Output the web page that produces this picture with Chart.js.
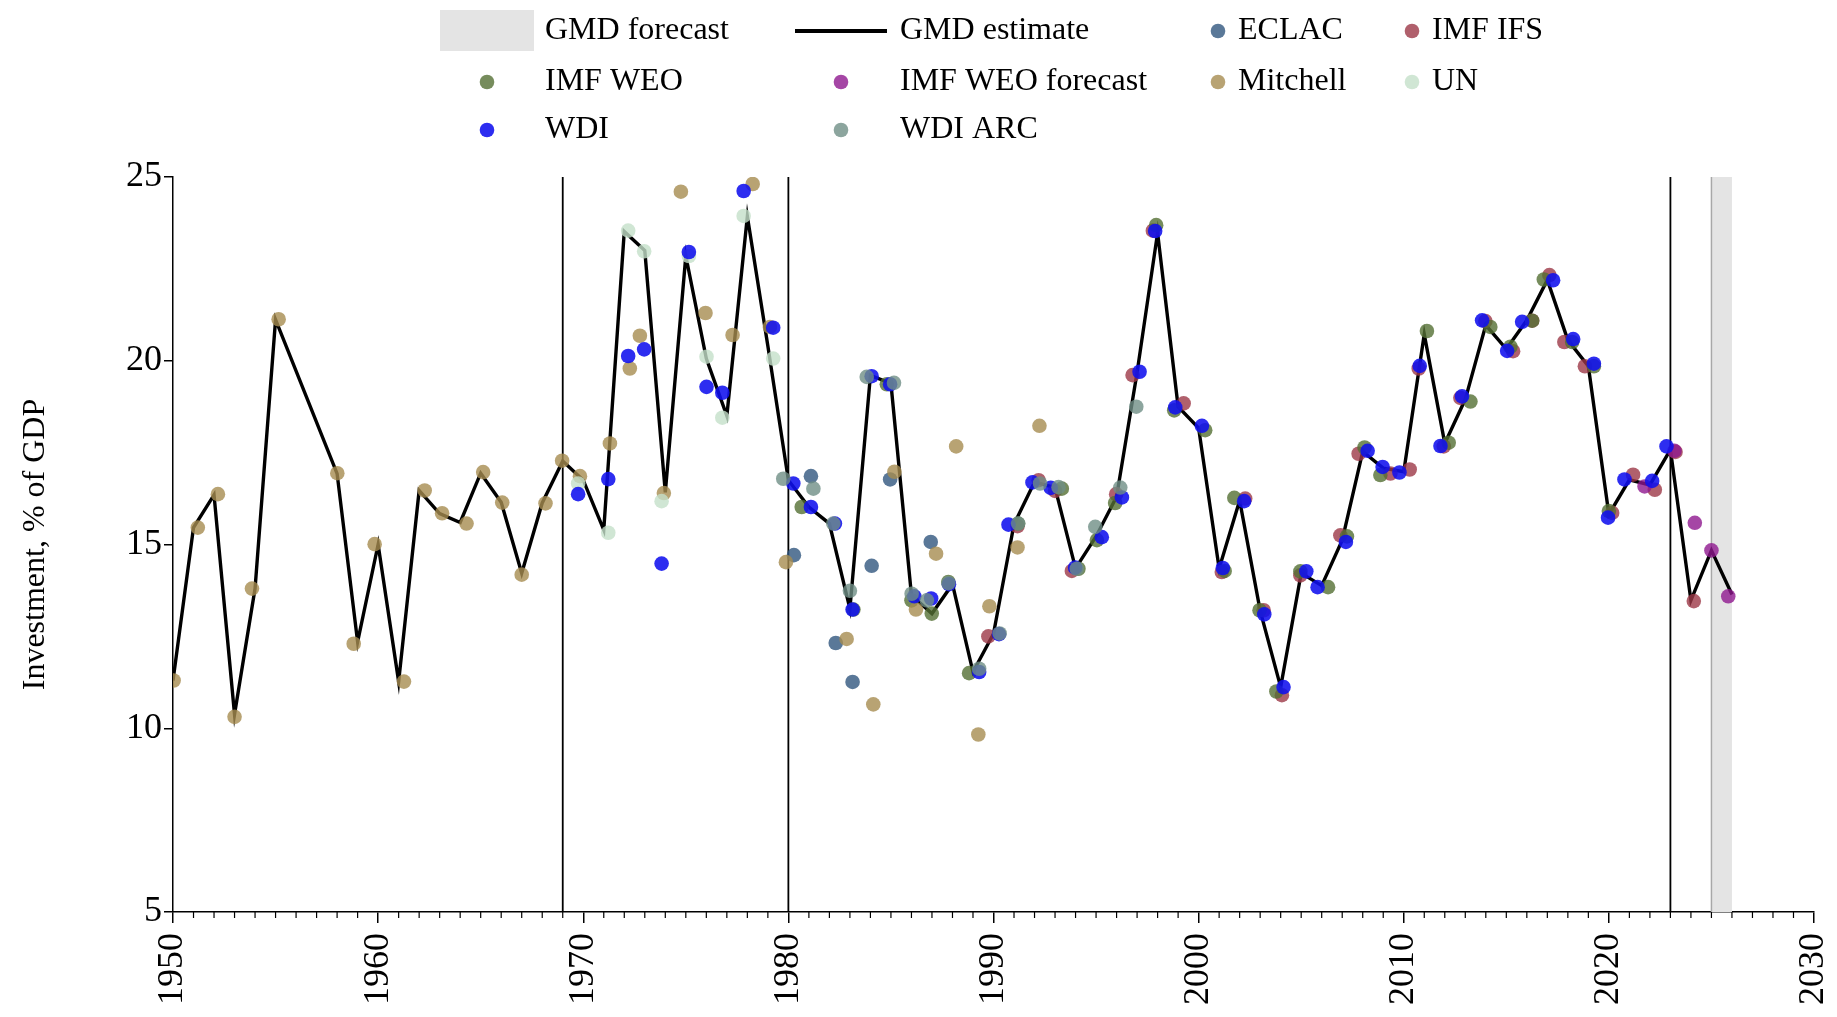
<!DOCTYPE html>
<html><head><meta charset="utf-8">
<script src="https://cdn.jsdelivr.net/npm/chart.js@4"></script>
<style>html,body{margin:0;padding:0;background:#fff;overflow:hidden}</style>
</head><body>
<canvas id="c" width="1837" height="1017" style="width:1837px;height:1017px"></canvas>
<script>
// ---- data ----
const gmdYears = [1950,1951,1952,1953,1954,1955,1958,1959,1960,1961,1962,1963,1964,1965,1966,1967,1968,1969,
  1970,1971,1972,1973,1974,1975,1976,1977,1978,1979,1980,1981,1982,1983,1984,1985,1986,1987,1988,1989,
  1990,1991,1992,1993,1994,1995,1996,1997,1998,1999,2000,2001,2002,2003,2004,2005,2006,2007,2008,2009,
  2010,2011,2012,2013,2014,2015,2016,2017,2018,2019,2020,2021,2022,2023,2024,2025,2026];
const gmdValues = [11.30,15.46,16.35,10.38,13.80,21.12,16.93,12.35,15.00,11.27,16.47,15.84,15.60,16.94,16.15,14.22,16.13,17.27,
  16.75,15.40,23.52,23.00,16.42,22.85,20.06,18.50,23.93,20.40,16.75,16.02,15.57,13.25,19.60,19.38,13.62,13.12,13.92,11.53,
  12.57,15.55,16.70,16.55,14.35,15.22,16.30,19.68,23.48,18.75,18.17,14.35,16.20,13.20,11.12,14.22,13.88,15.12,17.53,17.08,
  16.98,20.72,17.75,18.95,20.97,20.32,21.10,22.20,20.56,19.85,15.82,16.76,16.62,17.58,13.48,14.84,13.64];

const eclacPts = [[1980.27,14.71],[1981.10,16.86],[1982.31,12.32],[1983.13,11.26],[1984.06,14.42],[1984.96,16.77],[1986.94,15.07]];
const imfIfsPts = [[1989.75,12.50],[1991.17,15.50],[1992.20,16.75],[1993.00,16.46],[1993.82,14.28],[1995.98,16.37],[1996.78,19.61],
  [1997.77,23.54],[1999.27,18.84],[2001.13,14.25],[2002.27,16.25],[2003.17,13.21],[2004.06,10.90],[2004.96,14.16],[2006.91,15.25],
  [2007.80,17.47],[2009.35,16.93],[2010.29,17.04],[2010.73,19.79],[2011.95,17.67],[2012.76,18.99],[2013.98,21.08],[2015.33,20.26],
  [2016.26,21.09],[2017.10,22.33],[2017.83,20.51],[2018.83,19.85],[2020.16,15.86],[2021.18,16.90],[2022.24,16.49],[2023.25,17.52],[2024.14,13.46]];
const imfWeoPts = [[1980.65,16.02],[1983.17,13.23],[1984.80,19.36],[1986.00,13.48],[1986.99,13.12],[1987.80,13.98],[1988.81,11.50],
  [1991.20,15.57],[1993.33,16.52],[1994.14,14.34],[1995.04,15.12],[1995.93,16.13],[1997.93,23.69],[1998.81,18.65],[2000.32,18.11],
  [2001.27,14.28],[2001.74,16.27],[2002.97,13.21],[2003.79,11.00],[2004.96,14.27],[2006.31,13.84],[2007.23,15.22],[2008.09,17.64],
  [2008.86,16.89],[2011.13,20.81],[2012.19,17.77],[2013.25,18.89],[2014.22,20.92],[2015.20,20.38],[2016.26,21.09],[2016.83,22.21],
  [2018.21,20.51],[2019.27,19.85],[2020.00,15.91]];
const imfWeoForecastPts = [[2021.74,16.58],[2023.20,17.55],[2024.19,15.59],[2025.00,14.84],[2025.82,13.59]];
const mitchellPts = [[1950.03,11.30],[1951.21,15.46],[1952.19,16.37],[1953.00,10.31],[1953.85,13.80],[1955.15,21.13],[1958.01,16.94],
  [1958.81,12.30],[1959.83,15.01],[1961.26,11.27],[1962.27,16.47],[1963.12,15.85],[1964.31,15.57],[1965.12,16.97],[1966.05,16.14],
  [1967.00,14.18],[1968.16,16.12],[1968.97,17.28],[1969.84,16.86],[1971.30,17.75],[1972.27,19.79],[1972.76,20.68],[1973.93,16.40],
  [1974.76,24.60],[1975.96,21.30],[1977.28,20.70],[1978.26,24.81],[1979.10,20.92],[1979.88,14.52],[1982.84,12.43],[1984.14,10.65],
  [1985.17,16.98],[1986.22,13.23],[1987.20,14.75],[1988.18,17.67],[1989.26,9.83],[1989.80,13.32],[1991.17,14.92],[1992.24,18.23]];
const unPts = [[1969.75,16.66],[1971.22,15.32],[1972.19,23.54],[1972.97,22.98],[1973.82,16.18],[1975.15,22.85],[1976.01,20.11],
  [1976.78,18.45],[1977.82,23.94],[1979.26,20.06]];
const wdiPts = [[1969.75,16.37],[1971.22,16.78],[1972.19,20.13],[1972.97,20.31],[1973.82,14.48],[1975.15,22.96],[1976.01,19.29],
  [1976.78,19.13],[1977.82,24.62],[1979.26,20.90],[1980.24,16.66],[1981.10,16.02],[1982.27,15.57],[1983.13,13.23],[1984.06,19.58],
  [1984.96,19.36],[1986.14,13.59],[1986.96,13.53],[1987.83,13.92],[1989.30,11.53],[1990.27,12.56],[1990.73,15.54],[1991.90,16.69],
  [1992.79,16.54],[1993.98,14.37],[1995.28,15.20],[1996.26,16.28],[1997.12,19.70],[1997.88,23.53],[1998.86,18.73],[2000.16,18.23],
  [2001.18,14.36],[2002.22,16.18],[2003.20,13.10],[2004.14,11.12],[2005.25,14.27],[2005.80,13.84],[2007.18,15.07],[2008.24,17.55],
  [2008.97,17.11],[2009.79,16.96],[2010.78,19.86],[2011.79,17.68],[2012.84,19.03],[2013.82,21.10],[2015.04,20.27],[2015.77,21.06],
  [2017.28,22.19],[2018.26,20.59],[2019.27,19.92],[2019.96,15.73],[2020.76,16.77],[2022.11,16.73],[2022.81,17.67]];
const wdiArcPts = [[1979.75,16.79],[1981.22,16.52],[1982.19,15.57],[1983.00,13.74],[1983.82,19.56],[1985.15,19.40],[1986.01,13.66],
  [1986.75,13.48],[1987.80,13.95],[1989.30,11.62],[1990.30,12.58],[1991.20,15.57],[1992.27,16.66],[1993.17,16.56],[1994.06,14.34],
  [1994.96,15.48],[1996.18,16.55],[1996.96,18.75]];

const forecastRange = [2025, 2026];
const markerYears = [1969, 1980, 2023];
const xTicks = [1950, 1960, 1970, 1980, 1990, 2000, 2010, 2020, 2030];
const yTicks = [5, 10, 15, 20, 25];
const yTitle = 'Investment, % of GDP';

// ---- styling ----
const FONT = "'Liberation Serif', 'Times New Roman', serif";
Chart.defaults.font.family = FONT;
Chart.defaults.color = '#000';
const R = 7.3;

const toXY = pts => pts.map(p => ({x: p[0], y: p[1]}));
const scatter = (label, pts, color, order) => ({
  type: 'scatter', label, data: toXY(pts), backgroundColor: color, borderWidth: 0,
  pointRadius: R, pointHoverRadius: R, order
});

const series = [
  scatter('ECLAC', eclacPts, 'rgba(49,86,126,0.8)', 8),
  scatter('IMF IFS', imfIfsPts, 'rgba(156,56,71,0.8)', 7),
  scatter('IMF WEO', imfWeoPts, 'rgba(84,111,51,0.8)', 6),
  scatter('IMF WEO forecast', imfWeoForecastPts, 'rgba(142,24,142,0.8)', 5),
  scatter('Mitchell', mitchellPts, 'rgba(166,140,80,0.8)', 4),
  scatter('UN', unPts, 'rgba(196,224,201,0.8)', 3),
  scatter('WDI', wdiPts, 'rgba(16,16,238,0.88)', 2),
  scatter('WDI ARC', wdiArcPts, 'rgba(111,142,134,0.8)', 1)
];

const gmdLine = {
  type: 'line', label: 'GMD estimate',
  data: gmdYears.map((y, i) => ({x: y, y: gmdValues[i]})),
  borderColor: '#000', borderWidth: 3.4, pointRadius: 0, tension: 0, fill: false, order: 20
};

// shaded forecast band + vertical marker lines, placed via the scales
const bandsPlugin = {
  id: 'bands',
  beforeDatasetsDraw(chart) {
    const {ctx, chartArea: a, scales: {x}} = chart;
    ctx.save();
    const x0 = x.getPixelForValue(forecastRange[0]);
    const x1 = x.getPixelForValue(forecastRange[1]);
    ctx.fillStyle = '#e4e4e4';
    ctx.fillRect(x0, a.top, x1 - x0, a.bottom - a.top);
    ctx.strokeStyle = '#a8a8a8';
    ctx.lineWidth = 1.5;
    ctx.beginPath(); ctx.moveTo(x0, a.top); ctx.lineTo(x0, a.bottom); ctx.stroke();
    ctx.strokeStyle = '#000';
    ctx.lineWidth = 1.8;
    markerYears.forEach(yr => {
      const px = x.getPixelForValue(yr);
      ctx.beginPath(); ctx.moveTo(px, a.top); ctx.lineTo(px, a.bottom); ctx.stroke();
    });
    ctx.restore();
  },
  afterDraw(chart) {
    // minor year ticks on the x axis
    const {ctx, chartArea: a, scales: {x}} = chart;
    ctx.save();
    ctx.strokeStyle = '#000';
    ctx.lineWidth = 1.2;
    for (let yr = xTicks[0]; yr <= xTicks[xTicks.length - 1]; yr++) {
      if (yr % 10 === 0) continue;
      const px = x.getPixelForValue(yr);
      ctx.beginPath(); ctx.moveTo(px, a.bottom); ctx.lineTo(px, a.bottom + 6); ctx.stroke();
    }
    ctx.restore();
  }
};

// legend drawn from dataset labels / colours
const legendPlugin = {
  id: 'customLegend',
  afterDraw(chart) {
    const ctx = chart.ctx;
    const colX = [487, 841, 1218, 1412];
    const txtX = [545, 900, 1238, 1432];
    const rowY = [31, 82, 130];
    ctx.save();
    ctx.font = "32px " + FONT;
    ctx.fillStyle = '#000';
    ctx.textBaseline = 'middle';
    ctx.textAlign = 'left';
    ctx.fillStyle = '#e4e4e4';
    ctx.fillRect(440, 10, 94, 41);
    ctx.fillStyle = '#000';
    ctx.fillText('GMD forecast', txtX[0], rowY[0]);
    ctx.strokeStyle = '#000'; ctx.lineWidth = 4;
    ctx.beginPath(); ctx.moveTo(795, rowY[0]); ctx.lineTo(887, rowY[0]); ctx.stroke();
    ctx.fillText(gmdLine.label, txtX[1], rowY[0]);
    const slots = [[2,0],[3,0],[0,1],[1,1],[2,1],[3,1],[0,2],[1,2]];
    series.forEach((ds, i) => {
      const [c, r] = slots[i];
      ctx.fillStyle = ds.backgroundColor;
      ctx.beginPath(); ctx.arc(colX[c], rowY[r], R, 0, Math.PI * 2); ctx.fill();
      ctx.fillStyle = '#000';
      ctx.fillText(ds.label, txtX[c], rowY[r]);
    });
    ctx.restore();
  }
};

new Chart(document.getElementById('c'), {
  data: { datasets: [...series, gmdLine] },
  options: {
    responsive: false, animation: false, devicePixelRatio: 1,
    layout: { padding: { top: 177, right: 23, left: 0, bottom: 0 } },
    plugins: { legend: { display: false }, tooltip: { enabled: false } },
    scales: {
      x: {
        type: 'linear', min: xTicks[0], max: xTicks[xTicks.length - 1],
        afterBuildTicks: s => { s.ticks = xTicks.map(v => ({value: v})); },
        ticks: { font: { size: 36 }, color: '#000', maxRotation: 90, minRotation: 90, padding: 10, autoSkip: false,
                 callback: v => String(v) },
        grid: { drawOnChartArea: false, drawTicks: true, tickLength: 11, color: '#000', lineWidth: 1.5 },
        border: { color: '#000', width: 1.5 },
        afterFit: s => { s.height = 105; s.paddingLeft = 0; s.paddingRight = 0; }
      },
      y: {
        type: 'linear', min: yTicks[0], max: yTicks[yTicks.length - 1],
        afterBuildTicks: s => { s.ticks = yTicks.map(v => ({value: v})); },
        ticks: { font: { size: 36 }, color: '#000', padding: 2 },
        grid: { drawOnChartArea: false, drawTicks: true, tickLength: 9, color: '#000', lineWidth: 1.5 },
        border: { color: '#000', width: 1.5 },
        title: { display: true, text: yTitle, font: { size: 32 }, color: '#000', padding: { top: 16, bottom: 0 } },
        afterFit: s => { s.width = 173; s.paddingTop = 0; s.paddingBottom = 0; }
      }
    }
  },
  plugins: [bandsPlugin, legendPlugin]
});
</script>
</body></html>
